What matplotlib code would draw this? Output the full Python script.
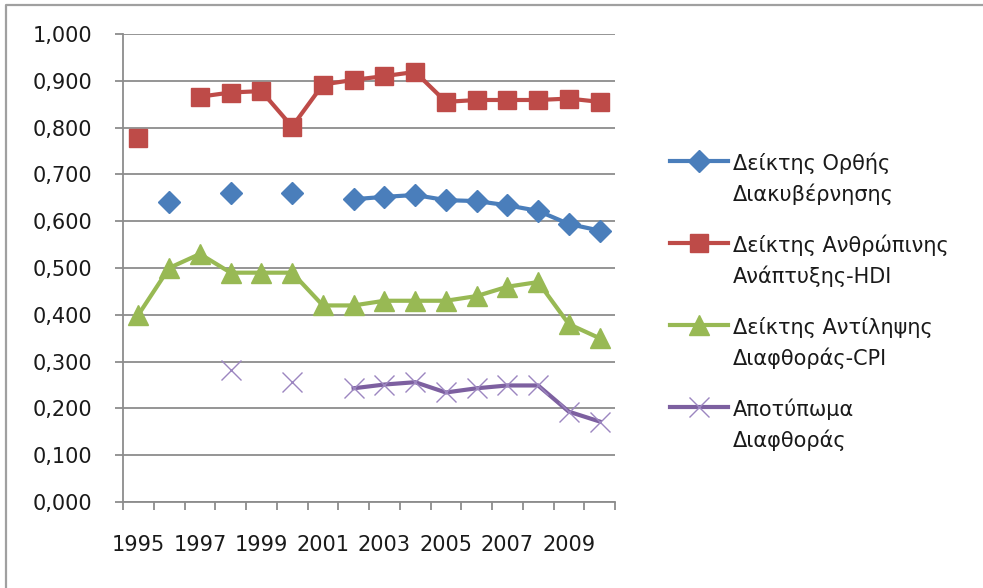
import matplotlib
matplotlib.use("Agg")
from matplotlib import pyplot as plt
from matplotlib.lines import Line2D
import numpy as np

nan = np.nan

# Χρονιές και τιμές δεικτών (διαβασμένες από το διάγραμμα)
years = list(range(1995, 2011))
tick_years = ["1995", "1997", "1999", "2001", "2003", "2005", "2007", "2009"]

governance = [nan, 0.640, nan, 0.661, nan, 0.661, nan, 0.647, 0.652, 0.656,
              0.645, 0.643, 0.634, 0.622, 0.594, 0.580]
hdi = [0.777, nan, 0.866, 0.875, 0.878, 0.802, 0.892, 0.902, 0.910, 0.919,
       0.855, 0.859, 0.859, 0.859, 0.862, 0.855]
cpi = [0.40, 0.50, 0.53, 0.49, 0.49, 0.49, 0.42, 0.42, 0.43, 0.43,
       0.43, 0.44, 0.46, 0.47, 0.38, 0.35]
footprint = [nan, nan, nan, 0.282, nan, 0.257, nan, 0.243, 0.251, 0.256,
             0.234, 0.243, 0.249, 0.249, 0.193, 0.172]

labels = [("Δείκτης Ορθής", "Διακυβέρνησης"),
          ("Δείκτης Ανθρώπινης", "Ανάπτυξης-HDI"),
          ("Δείκτης Αντίληψης", "Διαφθοράς-CPI"),
          ("Αποτύπωμα", "Διαφθοράς")]

plt.rcParams['font.family'] = ['DejaVu Sans']
grey = "#8c8c8c"
txt = "#1a1a1a"

W, H = 983, 588
fig = plt.figure(figsize=(W / 100, H / 100), dpi=100)
ax = fig.add_axes([123 / W, (H - 502) / H, (615 - 123) / W, (502 - 34) / H])

x = np.arange(len(years))
styles = [
    dict(color="#4A7EBB", marker="D", ms=11),
    dict(color="#BE4B48", marker="s", ms=13),
    dict(color="#98B954", marker="^", ms=15),
    dict(color="#7D60A0", marker="x", ms=14, mew=1, mec="#9C86C0"),
]
for ys, st in zip([governance, hdi, cpi, footprint], styles):
    ax.plot(x, ys, lw=3, **st)

ax.set_xlim(-0.5, len(years) - 0.5)
ax.set_ylim(0, 1)
yt = np.arange(0, 1.01, 0.1)
ax.set_yticks(yt)
ax.set_yticklabels([f"{v:.3f}".replace(".", ",") for v in yt])
ax.yaxis.grid(True, color=grey, lw=1.3)
ax.set_axisbelow(True)

ax.set_xticks(x[::2])
ax.set_xticklabels(tick_years)
ax.set_xticks(np.arange(-0.5, len(years)), minor=True)
ax.tick_params(axis="x", which="major", length=0, pad=24, labelsize=15, colors=txt)
ax.tick_params(axis="x", which="minor", length=6, width=1.3, color=grey)
ax.tick_params(axis="y", length=6, width=1.3, color=grey, pad=16, labelsize=15,
               labelcolor=txt)

for s in ["top", "right"]:
    ax.spines[s].set_visible(False)
for s in ["left", "bottom"]:
    ax.spines[s].set_color(grey)
    ax.spines[s].set_linewidth(1.3)

# legend drawn by hand so the handle sits on the first text line
for i, (lab, st) in enumerate(zip(labels, styles)):
    y0 = 161 + 82 * i
    fy = 1 - y0 / H
    fig.add_artist(Line2D([670 / W, 699 / W, 728 / W], [fy, fy, fy], lw=3,
                          markevery=[1], transform=fig.transFigure, **st))
    fig.text(733 / W, fy, lab[0], fontsize=15, color=txt, va="center_baseline")
    fig.text(733 / W, 1 - (y0 + 31) / H, lab[1], fontsize=15, color=txt,
             va="center_baseline")

# chart border (only left and top visible in the reference)
fig.add_artist(Line2D([6 / W, 6 / W, 1.0], [0.0, 1 - 5 / H, 1 - 5 / H],
                      color="#a0a0a0", lw=1.6, transform=fig.transFigure))

fig.savefig("out.png", dpi=100)
